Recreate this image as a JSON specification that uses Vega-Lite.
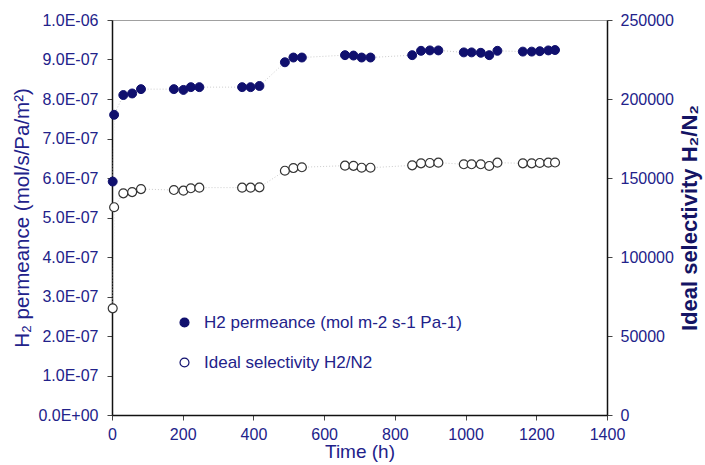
{
  "$schema": "https://vega.github.io/schema/vega-lite/v6.json",
  "autosize": {"type": "none"},
  "width": 495,
  "height": 395,
  "padding": {"left": 112, "top": 20, "right": 98, "bottom": 50},
  "background": "white",
  "config": {
    "view": {"stroke": "#a0a0a0", "strokeWidth": 1},
    "font": "Liberation Sans",
    "axis": {
      "grid": false,
      "domainColor": "#111111",
      "domainWidth": 1.5,
      "tickColor": "#444444",
      "tickSize": 5,
      "labelFont": "Liberation Sans",
      "labelFontSize": 16,
      "labelColor": "#22228a",
      "titleFont": "Liberation Sans",
      "titleFontWeight": "normal",
      "titleColor": "#22228a"
    }
  },
  "datasets": {
    "main": [
      {"t": 2, "value": 5.91e-7, "series": "H2 permeance (mol m-2 s-1 Pa-1)"},
      {"t": 6, "value": 7.60e-7, "series": "H2 permeance (mol m-2 s-1 Pa-1)"},
      {"t": 32, "value": 8.10e-7, "series": "H2 permeance (mol m-2 s-1 Pa-1)"},
      {"t": 57, "value": 8.14e-7, "series": "H2 permeance (mol m-2 s-1 Pa-1)"},
      {"t": 82, "value": 8.25e-7, "series": "H2 permeance (mol m-2 s-1 Pa-1)"},
      {"t": 175, "value": 8.25e-7, "series": "H2 permeance (mol m-2 s-1 Pa-1)"},
      {"t": 202, "value": 8.23e-7, "series": "H2 permeance (mol m-2 s-1 Pa-1)"},
      {"t": 223, "value": 8.30e-7, "series": "H2 permeance (mol m-2 s-1 Pa-1)"},
      {"t": 247, "value": 8.30e-7, "series": "H2 permeance (mol m-2 s-1 Pa-1)"},
      {"t": 368, "value": 8.30e-7, "series": "H2 permeance (mol m-2 s-1 Pa-1)"},
      {"t": 392, "value": 8.30e-7, "series": "H2 permeance (mol m-2 s-1 Pa-1)"},
      {"t": 417, "value": 8.33e-7, "series": "H2 permeance (mol m-2 s-1 Pa-1)"},
      {"t": 489, "value": 8.93e-7, "series": "H2 permeance (mol m-2 s-1 Pa-1)"},
      {"t": 513, "value": 9.05e-7, "series": "H2 permeance (mol m-2 s-1 Pa-1)"},
      {"t": 537, "value": 9.05e-7, "series": "H2 permeance (mol m-2 s-1 Pa-1)"},
      {"t": 659, "value": 9.11e-7, "series": "H2 permeance (mol m-2 s-1 Pa-1)"},
      {"t": 683, "value": 9.10e-7, "series": "H2 permeance (mol m-2 s-1 Pa-1)"},
      {"t": 706, "value": 9.05e-7, "series": "H2 permeance (mol m-2 s-1 Pa-1)"},
      {"t": 731, "value": 9.05e-7, "series": "H2 permeance (mol m-2 s-1 Pa-1)"},
      {"t": 849, "value": 9.11e-7, "series": "H2 permeance (mol m-2 s-1 Pa-1)"},
      {"t": 874, "value": 9.22e-7, "series": "H2 permeance (mol m-2 s-1 Pa-1)"},
      {"t": 899, "value": 9.23e-7, "series": "H2 permeance (mol m-2 s-1 Pa-1)"},
      {"t": 923, "value": 9.23e-7, "series": "H2 permeance (mol m-2 s-1 Pa-1)"},
      {"t": 995, "value": 9.18e-7, "series": "H2 permeance (mol m-2 s-1 Pa-1)"},
      {"t": 1017, "value": 9.18e-7, "series": "H2 permeance (mol m-2 s-1 Pa-1)"},
      {"t": 1043, "value": 9.17e-7, "series": "H2 permeance (mol m-2 s-1 Pa-1)"},
      {"t": 1067, "value": 9.11e-7, "series": "H2 permeance (mol m-2 s-1 Pa-1)"},
      {"t": 1090, "value": 9.22e-7, "series": "H2 permeance (mol m-2 s-1 Pa-1)"},
      {"t": 1162, "value": 9.20e-7, "series": "H2 permeance (mol m-2 s-1 Pa-1)"},
      {"t": 1187, "value": 9.20e-7, "series": "H2 permeance (mol m-2 s-1 Pa-1)"},
      {"t": 1210, "value": 9.21e-7, "series": "H2 permeance (mol m-2 s-1 Pa-1)"},
      {"t": 1234, "value": 9.23e-7, "series": "H2 permeance (mol m-2 s-1 Pa-1)"},
      {"t": 1253, "value": 9.24e-7, "series": "H2 permeance (mol m-2 s-1 Pa-1)"},
      {"t": 2, "value": 67500, "series": "Ideal selectivity H2/N2"},
      {"t": 6, "value": 131500, "series": "Ideal selectivity H2/N2"},
      {"t": 32, "value": 140300, "series": "Ideal selectivity H2/N2"},
      {"t": 57, "value": 141100, "series": "Ideal selectivity H2/N2"},
      {"t": 82, "value": 143000, "series": "Ideal selectivity H2/N2"},
      {"t": 175, "value": 142400, "series": "Ideal selectivity H2/N2"},
      {"t": 202, "value": 142000, "series": "Ideal selectivity H2/N2"},
      {"t": 223, "value": 143500, "series": "Ideal selectivity H2/N2"},
      {"t": 247, "value": 143900, "series": "Ideal selectivity H2/N2"},
      {"t": 368, "value": 143900, "series": "Ideal selectivity H2/N2"},
      {"t": 392, "value": 143900, "series": "Ideal selectivity H2/N2"},
      {"t": 417, "value": 144100, "series": "Ideal selectivity H2/N2"},
      {"t": 489, "value": 154600, "series": "Ideal selectivity H2/N2"},
      {"t": 513, "value": 156300, "series": "Ideal selectivity H2/N2"},
      {"t": 537, "value": 156800, "series": "Ideal selectivity H2/N2"},
      {"t": 659, "value": 157800, "series": "Ideal selectivity H2/N2"},
      {"t": 683, "value": 157700, "series": "Ideal selectivity H2/N2"},
      {"t": 706, "value": 156500, "series": "Ideal selectivity H2/N2"},
      {"t": 731, "value": 156500, "series": "Ideal selectivity H2/N2"},
      {"t": 849, "value": 158000, "series": "Ideal selectivity H2/N2"},
      {"t": 874, "value": 159300, "series": "Ideal selectivity H2/N2"},
      {"t": 899, "value": 159500, "series": "Ideal selectivity H2/N2"},
      {"t": 923, "value": 159700, "series": "Ideal selectivity H2/N2"},
      {"t": 995, "value": 158700, "series": "Ideal selectivity H2/N2"},
      {"t": 1017, "value": 158700, "series": "Ideal selectivity H2/N2"},
      {"t": 1043, "value": 158700, "series": "Ideal selectivity H2/N2"},
      {"t": 1067, "value": 157600, "series": "Ideal selectivity H2/N2"},
      {"t": 1090, "value": 159700, "series": "Ideal selectivity H2/N2"},
      {"t": 1162, "value": 159300, "series": "Ideal selectivity H2/N2"},
      {"t": 1187, "value": 159300, "series": "Ideal selectivity H2/N2"},
      {"t": 1210, "value": 159500, "series": "Ideal selectivity H2/N2"},
      {"t": 1234, "value": 159700, "series": "Ideal selectivity H2/N2"},
      {"t": 1253, "value": 159800, "series": "Ideal selectivity H2/N2"}
    ]
  },
  "data": {"name": "main"},
  "encoding": {
    "x": {
      "field": "t",
      "type": "quantitative",
      "scale": {"domain": [0, 1400], "nice": false},
      "axis": {
        "title": "Time (h)",
        "format": "d",
        "values": [0, 200, 400, 600, 800, 1000, 1200, 1400],
        "titleFontSize": 19,
        "titleFontWeight": "normal",
        "titlePadding": 0,
        "labelPadding": 6,
        "labelFlush": false
      }
    }
  },
  "layer": [
    {
      "transform": [{"filter": "datum.series == 'H2 permeance (mol m-2 s-1 Pa-1)'"}],
      "encoding": {
        "y": {
          "field": "value",
          "type": "quantitative",
          "scale": {"domain": [0, 1e-6], "nice": false},
          "axis": {
            "orient": "left",
            "title": "H₂ permeance (mol/s/Pa/m²)",
            "values": [0, 1e-7, 2e-7, 3e-7, 4e-7, 5e-7, 6e-7, 7e-7, 8e-7, 9e-7, 1e-6],
            "labelExpr": "replace(replace(format(datum.value, '.1e'), 'e-', 'E-0'), 'e+', 'E+0')",
            "labelPadding": 9,
            "titleFontSize": 20.5,
            "titleFontWeight": "normal",
            "titlePadding": 5
          }
        }
      },
      "layer": [
        {
          "mark": {"type": "line", "stroke": "#cccccc", "strokeWidth": 1, "strokeDash": [1, 2]}
        },
        {
          "mark": {"type": "point", "filled": true, "size": 80, "stroke": "#10106e", "strokeWidth": 1, "opacity": 1},
          "encoding": {
            "fill": {
              "field": "series",
              "type": "nominal",
              "scale": {
                "domain": ["H2 permeance (mol m-2 s-1 Pa-1)", "Ideal selectivity H2/N2"],
                "range": ["#10106e", "#ffffff"]
              },
              "legend": {
                "title": null,
                "orient": "none",
                "legendX": 64,
                "legendY": 294,
                "padding": 0,
                "symbolType": "circle",
                "symbolSize": 80,
                "symbolStrokeWidth": 1.2,
                "labelFont": "Liberation Sans",
                "labelFontSize": 17,
                "labelColor": "#22228a",
                "labelOffset": 11,
                "labelLimit": 400,
                "rowPadding": 22,
                "symbolOpacity": 1,
                "encode": {
                  "symbols": {
                    "update": {
                      "stroke": {"signal": "datum.value == 'Ideal selectivity H2/N2' ? '#333333' : '#10106e'"}
                    }
                  }
                }
              }
            }
          }
        }
      ]
    },
    {
      "transform": [{"filter": "datum.series == 'Ideal selectivity H2/N2'"}],
      "encoding": {
        "y": {
          "field": "value",
          "type": "quantitative",
          "scale": {"domain": [0, 250000], "nice": false},
          "axis": {
            "orient": "right",
            "title": "Ideal selectivity H₂/N₂",
            "values": [0, 50000, 100000, 150000, 200000, 250000],
            "format": "d",
            "labelPadding": 8,
            "titleFontSize": 22,
            "titleFontWeight": "bold",
            "titleColor": "#141464",
            "titleAngle": 270,
            "titlePadding": 28
          }
        }
      },
      "layer": [
        {
          "mark": {"type": "line", "stroke": "#cccccc", "strokeWidth": 1, "strokeDash": [1, 2]}
        },
        {
          "mark": {"type": "point", "filled": true, "size": 80, "stroke": "#333333", "strokeWidth": 1.2, "opacity": 1},
          "encoding": {
            "fill": {
              "field": "series",
              "type": "nominal",
              "scale": {
                "domain": ["H2 permeance (mol m-2 s-1 Pa-1)", "Ideal selectivity H2/N2"],
                "range": ["#10106e", "#ffffff"]
              }
            }
          }
        }
      ]
    }
  ],
  "resolve": {"scale": {"y": "independent"}}
}
